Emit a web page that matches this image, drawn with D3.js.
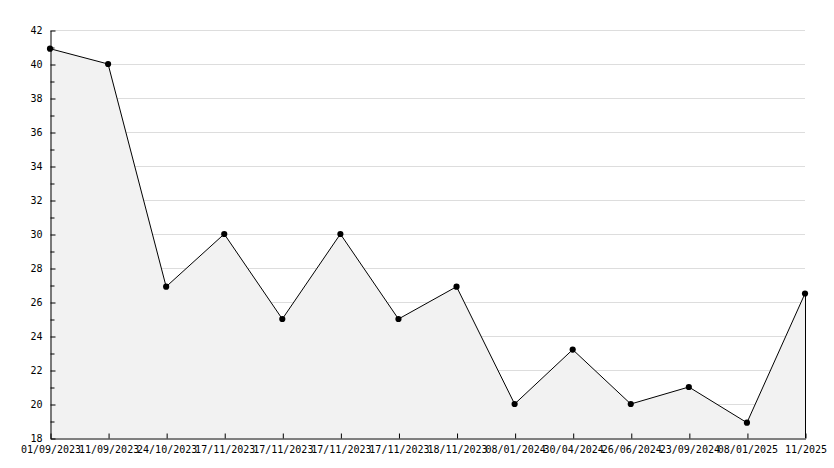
<!DOCTYPE html>
<html>
<head>
<meta charset="utf-8">
<script src="https://cdn.jsdelivr.net/npm/d3@7"></script>
<style>
  html, body { margin: 0; padding: 0; background: #ffffff; }
  svg { display: block; }
  text { font-family: "DejaVu Sans Mono", monospace; font-size: 10px; fill: #000; }
</style>
</head>
<body>
<svg id="chart" width="834" height="468"></svg>
<script>
// Data
const categories = ["01/09/2023", "11/09/2023", "24/10/2023", "17/11/2023", "17/11/2023",
  "17/11/2023", "17/11/2023", "18/11/2023", "08/01/2024", "30/04/2024",
  "26/06/2024", "23/09/2024", "08/01/2025", "11/2025"];
const values = [40.9, 40, 26.9, 30, 25, 30, 25, 26.9, 20, 23.2, 20, 21, 18.9, 26.5];
const yMajorTicks = [18, 20, 22, 24, 26, 28, 30, 32, 34, 36, 38, 40, 42];
const yMinorTicks = [19, 21, 23, 25, 27, 29, 31, 33, 35, 37, 39, 41];

(function () {
const svg = d3.select("#chart");
const mLeft = 50, mRight = 805, mTop = 30, mBottom = 438;

const x = d3.scalePoint().domain(d3.range(categories.length)).range([mLeft, mRight]);
const y = d3.scaleLinear().domain([18, 42]).range([mBottom, mTop]);

// Gridlines
svg.append("g").selectAll("line").data(yMajorTicks.filter(d => d > 18)).join("line")
  .attr("x1", mLeft).attr("x2", mRight)
  .attr("y1", d => y(d) + 0.5).attr("y2", d => y(d) + 0.5)
  .attr("stroke", "#dddddd").attr("stroke-width", 1);

// Area
const idx = d3.range(values.length);
svg.append("path")
  .datum(idx)
  .attr("fill", "#f2f2f2")
  .attr("d", d3.area().x(i => x(i)).y0(y(18)).y1(i => y(values[i])));

// Right edge of area
svg.append("line")
  .attr("x1", x(values.length - 1) + 0.5).attr("x2", x(values.length - 1) + 0.5)
  .attr("y1", y(values[values.length - 1])).attr("y2", y(18))
  .attr("stroke", "#000").attr("stroke-width", 1);

// Line
svg.append("path")
  .datum(idx)
  .attr("fill", "none")
  .attr("stroke", "#000")
  .attr("stroke-width", 1)
  .attr("d", d3.line().x(i => x(i)).y(i => y(values[i])));

// Markers
svg.append("g").selectAll("path").data(idx).join("path")
  .attr("transform", i => `translate(${x(i)},${y(values[i])})`)
  .attr("d", d3.symbol().type(d3.symbolCircle).size(30))
  .attr("fill", "#000");

// Y axis (major)
svg.append("g")
  .attr("transform", `translate(${mLeft + 0.5},0.5)`)
  .call(d3.axisLeft(y).tickValues(yMajorTicks).tickFormat(d3.format("d"))
    .tickSizeInner(-5).tickSizeOuter(0).tickPadding(8));
// Y axis (minor)
svg.append("g")
  .attr("transform", `translate(${mLeft + 0.5},0.5)`)
  .call(d3.axisLeft(y).tickValues(yMinorTicks).tickFormat("")
    .tickSizeInner(-4).tickSizeOuter(0))
  .select(".domain").remove();

// X axis
svg.append("g")
  .attr("transform", `translate(0.5,${mBottom + 0.5})`)
  .call(d3.axisBottom(x).tickFormat(i => categories[i])
    .tickSizeInner(-5).tickSizeOuter(0).tickPadding(7));

svg.selectAll(".tick text").attr("font-family", "DejaVu Sans Mono").attr("font-size", 10).attr("fill", "#000");
svg.selectAll(".domain, .tick line").attr("stroke", "#000");
})();
</script>
</body>
</html>
